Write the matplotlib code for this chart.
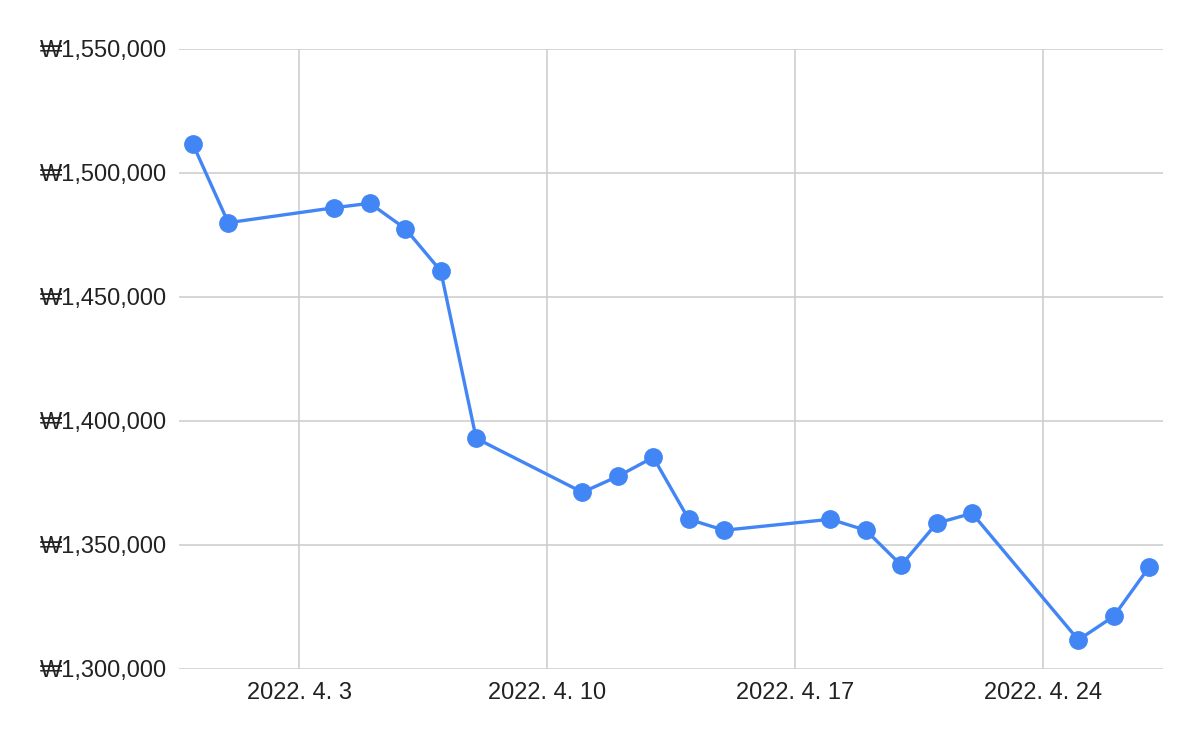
import matplotlib
matplotlib.use("Agg")
import matplotlib.pyplot as plt
import matplotlib.dates as mdates
from matplotlib.ticker import FuncFormatter, FixedLocator
import numpy as np
import datetime as dt

plt.rcParams['font.family'] = ['Liberation Sans', 'DejaVu Sans']

dates = ["2022-03-31", "2022-04-01", "2022-04-04", "2022-04-05", "2022-04-06",
         "2022-04-07", "2022-04-08", "2022-04-11", "2022-04-12", "2022-04-13",
         "2022-04-14", "2022-04-15", "2022-04-18", "2022-04-19", "2022-04-20",
         "2022-04-21", "2022-04-22", "2022-04-25", "2022-04-26", "2022-04-27"]
values = [1511700, 1479960, 1486010, 1487790, 1477545,
          1460490, 1392990, 1371250, 1377690, 1385340,
          1360380, 1355950, 1360380, 1355950, 1341860,
          1358770, 1362790, 1311710, 1321260, 1341140]
x_ticks = ["2022-04-03", "2022-04-10", "2022-04-17", "2022-04-24"]
y_ticks = [1300000, 1350000, 1400000, 1450000, 1500000, 1550000]

xd = [dt.datetime.strptime(d, "%Y-%m-%d") for d in dates]
xt = [dt.datetime.strptime(d, "%Y-%m-%d") for d in x_ticks]

fig = plt.figure(figsize=(12, 7.42), dpi=100)
ax = fig.add_axes([179/1200, 1-669/742, (1163-179)/1200, (669-49)/742])

ax.plot(xd, values, color="#4285F4", linewidth=2.4, marker="o",
        markersize=12.5, zorder=3, solid_capstyle="round")

pad = dt.timedelta(days=0.39)
ax.set_xlim(xd[0] - pad, xd[-1] + pad)
ax.set_ylim(y_ticks[0], y_ticks[-1])

ax.xaxis.set_major_locator(FixedLocator(mdates.date2num(xt)))
ax.xaxis.set_major_formatter(FuncFormatter(
    lambda v, p: (lambda d: f"{d.year}. {d.month}. {d.day}")(mdates.num2date(v))))
ax.set_yticks(y_ticks)
ax.yaxis.set_major_formatter(FuncFormatter(lambda v, p: f"₩{int(v):,}"))

ax.grid(True, color="#cccccc", linewidth=1.1)
ax.set_axisbelow(True)
for s in ax.spines.values():
    s.set_visible(False)
ax.tick_params(axis='both', length=0, labelsize=17, colors="#222222")
ax.tick_params(axis='y', pad=9)
ax.tick_params(axis='x', pad=9.5)

fig.savefig("out.png", dpi=100)
